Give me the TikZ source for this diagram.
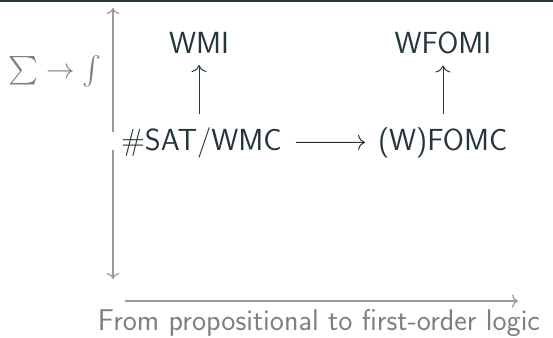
\documentclass[tikz,border=0pt]{standalone}
\usetikzlibrary{arrows.meta}
\definecolor{darkteal}{HTML}{23373B}
\definecolor{axisgray}{HTML}{9A9A9A}
\definecolor{labelgray}{HTML}{7F7F7F}
\begin{document}
\begin{tikzpicture}[x=1pt,y=1pt,
  term/.style={font=\fontsize{30.5}{36}\selectfont\sffamily, text=darkteal, inner sep=0pt, outer sep=0pt},
  flow/.style={draw=darkteal, line width=1pt, -{Computer Modern Rightarrow[length=7pt,width=15pt]}},
  axis/.style={draw=axisgray, line width=1.2pt},
  axistip/.style={-{Computer Modern Rightarrow[length=6pt,width=13pt]}},
  axislabel/.style={font=\fontsize{30}{36}\selectfont\sffamily, text=labelgray, inner sep=0pt}]
  \useasboundingbox (0,0) rectangle (553,-337);
  % header strip
  \fill[darkteal] (0,0) rectangle (553,-2);

  % terms
  \node[term, anchor=base] (wmi) at (199,-53) {WMI};
  \node[term, anchor=base] (wfomi) at (443,-53) {WFOMI};
  \node[term, anchor=base west] (sat) at (121,-150) {\#SAT/WMC};
  \node[term, anchor=base west] (fomc) at (378,-150) {(W)FOMC};

  % reductions
  \draw[flow, shorten <=13pt, shorten >=12pt] (wmi.south |- sat.north) -- (wmi.south);
  \draw[flow, shorten <=13pt, shorten >=12pt] (wfomi.south |- fomc.north) -- (wfomi.south);
  \draw[flow, shorten <=14pt, shorten >=13pt] (sat.east) -- (fomc.west);

  % axes
  \coordinate (vtop) at (113,-8);
  \coordinate (vgapa) at (113,-132);
  \coordinate (vgapb) at (113,-150);
  \coordinate (vbot) at (113,-279);
  \coordinate (hleft) at (125,-301);
  \coordinate (hright) at (518,-301);
  \draw[axis, axistip] (vgapa) -- (vtop);
  \draw[axis, axistip] (vgapb) -- (vbot);
  \draw[axis, axistip] (hleft) -- (hright);

  \node[text=labelgray, inner sep=0pt] (sumint) at (55,-71) {\scalebox{2.85}{$\sum\to\int$}};
  \node[axislabel, anchor=base] (xlabel) at (319,-330) {From propositional to first-order logic};
\end{tikzpicture}
\end{document}
